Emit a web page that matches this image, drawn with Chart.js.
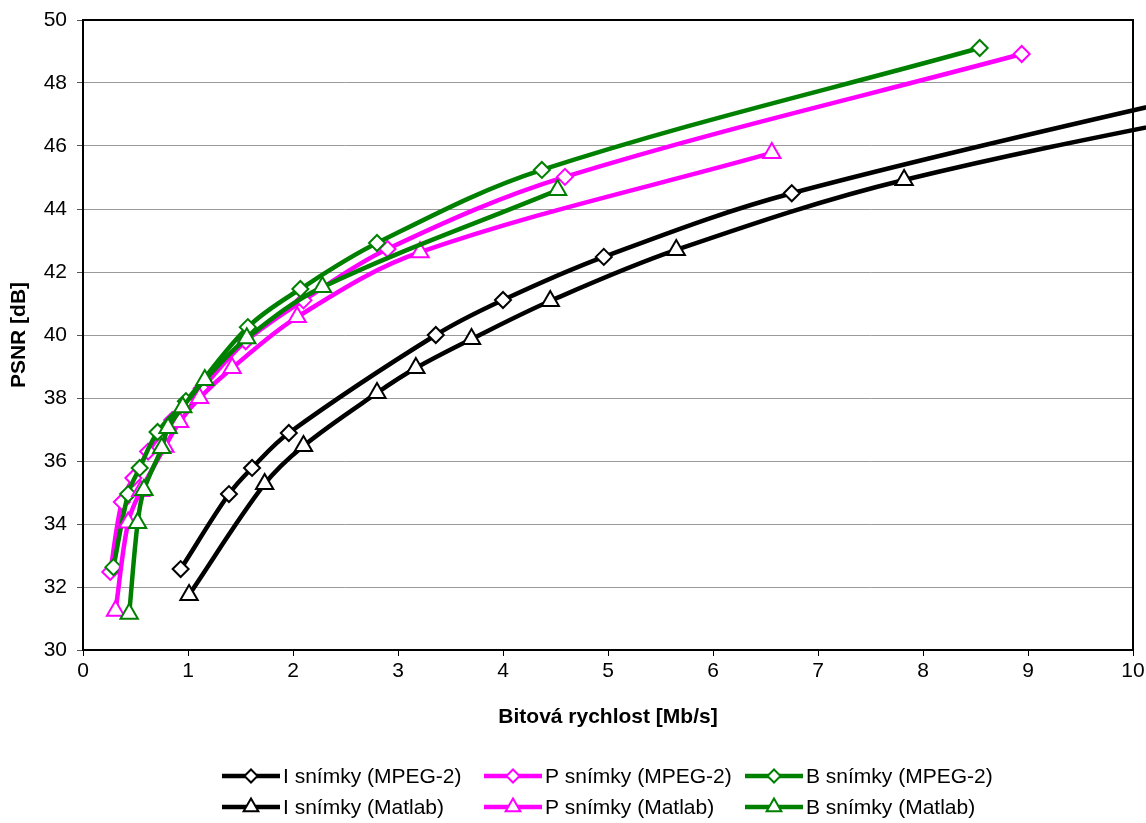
<!DOCTYPE html>
<html>
<head>
<meta charset="utf-8">
<script src="https://cdn.jsdelivr.net/npm/chart.js@4.4.0/dist/chart.umd.min.js"></script>
<style>
  html, body { margin: 0; padding: 0; background: #fff; }
  #wrap { width: 1146px; height: 823px; }
</style>
</head>
<body>
<div id="wrap"><canvas id="c" width="1146" height="823"></canvas></div>
<script>
// Rate–distortion curves: PSNR versus bit rate for I, P and B frames
const xTicks = [0, 1, 2, 3, 4, 5, 6, 7, 8, 9, 10];
const yTicks = [30, 32, 34, 36, 38, 40, 42, 44, 46, 48, 50];

const seriesNames = [
  'I snímky (MPEG-2)', 'P snímky (MPEG-2)', 'B snímky (MPEG-2)',
  'I snímky (Matlab)', 'P snímky (Matlab)', 'B snímky (Matlab)'
];

// I frames, MPEG-2 encoder
const iMpegRate = [0.93, 1.39, 1.61, 1.96, 3.36, 4.00, 4.96, 6.75, 11.5];
const iMpegPsnr = [32.57, 34.95, 35.78, 36.89, 40.00, 41.11, 42.48, 44.50, 48.30];
// P frames, MPEG-2 encoder
const pMpegRate = [0.26, 0.37, 0.48, 0.62, 0.85, 1.13, 1.55, 2.10, 2.90, 4.59, 8.94];
const pMpegPsnr = [32.48, 34.70, 35.46, 36.30, 37.30, 38.30, 39.80, 41.10, 42.73, 45.02, 48.92];
// B frames, MPEG-2 encoder
const bMpegRate = [0.29, 0.43, 0.54, 0.71, 0.98, 1.57, 2.07, 2.80, 4.37, 8.54];
const bMpegPsnr = [32.63, 34.95, 35.78, 36.92, 37.90, 40.25, 41.46, 42.92, 45.24, 49.11];

// I frames, Matlab encoder
const iMatRate = [1.01, 1.73, 2.10, 2.80, 3.17, 3.70, 4.45, 5.65, 7.82, 12.0];
const iMatPsnr = [31.75, 35.27, 36.48, 38.16, 38.95, 39.87, 41.08, 42.70, 44.92, 47.85];
// P frames, Matlab encoder
const pMatRate = [0.31, 0.43, 0.55, 0.78, 0.92, 1.11, 1.42, 2.04, 3.21, 6.56];
const pMatPsnr = [31.25, 34.05, 35.05, 36.45, 37.24, 38.00, 38.95, 40.57, 42.63, 45.78];
// B frames, Matlab encoder
const bMatRate = [0.44, 0.52, 0.58, 0.75, 0.81, 0.95, 1.16, 1.56, 2.28, 4.52];
const bMatPsnr = [31.15, 34.03, 35.08, 36.41, 37.05, 37.71, 38.57, 39.90, 41.52, 44.60];

const BLACK = '#000000', MAGENTA = '#ff00ff', GREEN = '#008000';
const FONT = '"Liberation Sans", Arial, sans-serif';
const FONT_SIZE = 21;

function pts(xs, ys) { return xs.map((x, i) => ({ x: x, y: ys[i] })); }

function series(idx, xs, ys, color, style) {
  return {
    label: seriesNames[idx],
    data: pts(xs, ys),
    borderColor: color,
    backgroundColor: '#ffffff',
    borderWidth: 4.5,
    pointStyle: style,
    pointRadius: style === 'triangle' ? 10 : 8,
    pointBorderWidth: 2,
    pointBorderColor: color,
    pointBackgroundColor: '#ffffff',
    tension: 0.35,
    clip: false,
    order: 6 - idx
  };
}

const datasets = [
  series(0, iMpegRate, iMpegPsnr, BLACK, 'rectRot'),
  series(1, pMpegRate, pMpegPsnr, MAGENTA, 'rectRot'),
  series(2, bMpegRate, bMpegPsnr, GREEN, 'rectRot'),
  series(3, iMatRate, iMatPsnr, BLACK, 'triangle'),
  series(4, pMatRate, pMatPsnr, MAGENTA, 'triangle'),
  series(5, bMatRate, bMatPsnr, GREEN, 'triangle')
];

function drawMarker(ctx, style, r, x, y, color) {
  ctx.save();
  ctx.beginPath();
  if (style === 'triangle') {
    let a = 0;
    ctx.moveTo(x + Math.sin(a) * r, y - Math.cos(a) * r);
    a += 2 * Math.PI / 3;
    ctx.lineTo(x + Math.sin(a) * r, y - Math.cos(a) * r);
    a += 2 * Math.PI / 3;
    ctx.lineTo(x + Math.sin(a) * r, y - Math.cos(a) * r);
  } else {
    ctx.moveTo(x - r, y);
    ctx.lineTo(x, y - r);
    ctx.lineTo(x + r, y);
    ctx.lineTo(x, y + r);
  }
  ctx.closePath();
  ctx.fillStyle = '#ffffff';
  ctx.fill();
  ctx.lineWidth = 2;
  ctx.strokeStyle = color;
  ctx.stroke();
  ctx.restore();
}

// Black frame around the plotting area
const framePlugin = {
  id: 'frame',
  beforeDatasetsDraw(chart) {
    const a = chart.chartArea, ctx = chart.ctx;
    ctx.save();
    ctx.strokeStyle = '#000';
    ctx.lineWidth = 2;
    ctx.strokeRect(a.left, a.top, a.right - a.left, a.bottom - a.top);
    ctx.restore();
  }
};

// Two-row legend with line + marker samples
const legendPlugin = {
  id: 'lineLegend',
  afterDraw(chart) {
    const ctx = chart.ctx;
    const cols = [222, 484, 745];
    const rows = [776, 807];
    const lineLen = 58;
    ctx.save();
    ctx.font = FONT_SIZE + 'px ' + FONT;
    ctx.textBaseline = 'middle';
    ctx.textAlign = 'left';
    chart.data.datasets.forEach((ds, i) => {
      const col = i % 3, row = Math.floor(i / 3);
      const x0 = cols[col], y = rows[row];
      ctx.beginPath();
      ctx.moveTo(x0, y);
      ctx.lineTo(x0 + lineLen, y);
      ctx.strokeStyle = ds.borderColor;
      ctx.lineWidth = 4.5;
      ctx.stroke();
      drawMarker(ctx, ds.pointStyle, ds.pointStyle === 'triangle' ? 8.5 : 6.5, x0 + lineLen / 2, y, ds.borderColor);
      ctx.fillStyle = '#000';
      ctx.fillText(ds.label, x0 + lineLen + 3, y + 1);
    });
    ctx.restore();
  }
};

new Chart(document.getElementById('c'), {
  type: 'line',
  data: { datasets: datasets },
  plugins: [framePlugin, legendPlugin],
  options: {
    responsive: false,
    animation: false,
    layout: { padding: { top: 20, right: 13, left: 0, bottom: 89 } },
    plugins: { legend: { display: false }, tooltip: { enabled: false } },
    scales: {
      x: {
        type: 'linear',
        min: xTicks[0],
        max: xTicks[xTicks.length - 1],
        afterFit(s) { s.height = 84; s.paddingLeft = 0; s.paddingRight = 0; },
        afterBuildTicks(s) { s.ticks = xTicks.map(v => ({ value: v })); },
        border: { display: false },
        grid: { drawOnChartArea: false, tickLength: 6, color: '#000', tickColor: '#000' },
        ticks: { color: '#000', font: { family: FONT, size: FONT_SIZE }, padding: 3, maxRotation: 0 },
        title: {
          display: true,
          text: 'Bitová rychlost [Mb/s]',
          color: '#000',
          font: { family: FONT, size: FONT_SIZE, weight: 'bold' },
          padding: { top: 4, bottom: 4 }
        }
      },
      y: {
        type: 'linear',
        min: yTicks[0],
        max: yTicks[yTicks.length - 1],
        afterFit(s) { s.width = 83; s.paddingTop = 0; s.paddingBottom = 0; },
        afterBuildTicks(s) { s.ticks = yTicks.map(v => ({ value: v })); },
        border: { display: false },
        grid: { color: '#9a9a9a', lineWidth: 1, tickLength: 6, tickColor: '#555' },
        ticks: { color: '#000', font: { family: FONT, size: FONT_SIZE }, padding: 10 },
        title: {
          display: true,
          text: 'PSNR [dB]',
          color: '#000',
          font: { family: FONT, size: FONT_SIZE, weight: 'bold' },
          padding: { top: 7, bottom: 4 }
        }
      }
    }
  }
});
</script>
</body>
</html>
